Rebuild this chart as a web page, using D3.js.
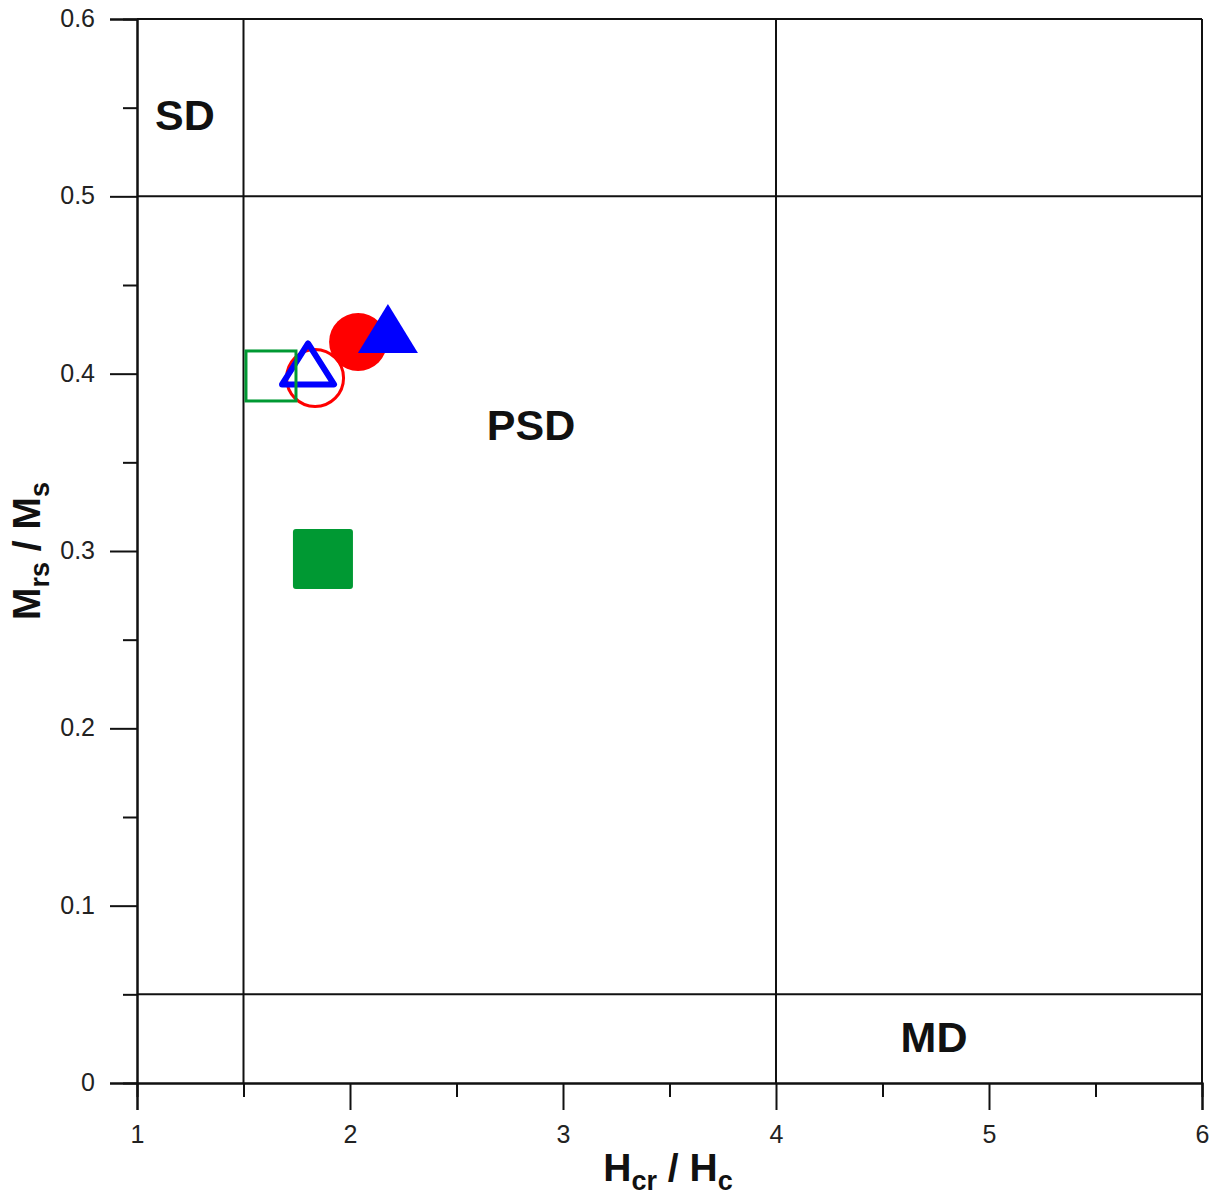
<!DOCTYPE html>
<html lang="en">
<head>
<meta charset="utf-8">
<title>Day plot</title>
<script src="https://cdn.jsdelivr.net/npm/d3@7"></script>
<style>
  body { margin: 0; background: #fff; }
  svg text { font-family: "Liberation Sans", Arial, sans-serif; }
</style>
</head>
<body>
<div id="chart"></div>
<script>
// data
const xTicks = [1, 2, 3, 4, 5, 6];
const yTicks = [0, 0.1, 0.2, 0.3, 0.4, 0.5, 0.6];
const xMinor = [1.5, 2.5, 3.5, 4.5, 5.5];
const yMinor = [0.05, 0.15, 0.25, 0.35, 0.45, 0.55];
const vLines = [1.5, 4];          // SD/PSD and PSD/MD Hcr/Hc limits
const hLines = [0.5, 0.05];       // Mrs/Ms limits
const regions = [
  { name: "SD",  x: 1.225, y: 0.546 },
  { name: "PSD", x: 2.85,  y: 0.371 },
  { name: "MD",  x: 4.742, y: 0.026 }
];
// samples: shape, filled?, colour
const circles   = [{ x: 1.836, y: 0.3976, fill: false }, { x: 2.038, y: 0.4179, fill: true }];
const triangles = [{ x: 1.803, y: 0.4055, fill: false }, { x: 2.178, y: 0.4255, fill: true }];
const squares   = [{ x: 1.629, y: 0.3987, fill: false }, { x: 1.873, y: 0.2955, fill: true }];

const width = 1216, height = 1198;
const mLeft = 137, mRight = 1202, mTop = 19, mBottom = 1083;

const svg = d3.select("#chart").append("svg")
    .attr("width", width)
    .attr("height", height);

const x = d3.scaleLinear().domain([1, 6]).range([mLeft, mRight]);
const y = d3.scaleLinear().domain([0, 0.6]).range([mBottom, mTop]);

// region boundaries
svg.selectAll(".vline").data(vLines).enter().append("line")
    .attr("x1", d => x(d)).attr("x2", d => x(d))
    .attr("y1", y(0)).attr("y2", y(0.6))
    .attr("stroke", "#111").attr("stroke-width", 2);
svg.selectAll(".hline").data(hLines).enter().append("line")
    .attr("x1", x(1)).attr("x2", x(6))
    .attr("y1", d => y(d)).attr("y2", d => y(d))
    .attr("stroke", "#111").attr("stroke-width", 2);

// frame: top and right
svg.append("line").attr("x1", x(1)).attr("x2", x(6)).attr("y1", y(0.6)).attr("y2", y(0.6))
    .attr("stroke", "#111").attr("stroke-width", 2);
svg.append("line").attr("x1", x(6)).attr("x2", x(6)).attr("y1", y(0)).attr("y2", y(0.6))
    .attr("stroke", "#111").attr("stroke-width", 2);

// axes
const xAxis = svg.append("g").attr("transform", `translate(0,${mBottom})`)
    .call(d3.axisBottom(x).tickValues(xTicks).tickSize(27).tickPadding(15).tickFormat(d3.format("d")));
const xAxisMinor = svg.append("g").attr("transform", `translate(0,${mBottom})`)
    .call(d3.axisBottom(x).tickValues(xMinor).tickSize(14).tickFormat(""));
const yAxis = svg.append("g").attr("transform", `translate(${mLeft},0)`)
    .call(d3.axisLeft(y).tickValues(yTicks).tickSize(27).tickPadding(15)
        .tickFormat(d => d === 0 ? "0" : d3.format(".1f")(d)));
const yAxisMinor = svg.append("g").attr("transform", `translate(${mLeft},0)`)
    .call(d3.axisLeft(y).tickValues(yMinor).tickSize(14).tickFormat(""));

[xAxis, xAxisMinor, yAxis, yAxisMinor].forEach(g => {
  g.select(".domain").attr("stroke", "#111").attr("stroke-width", 2);
  g.selectAll(".tick line").attr("stroke", "#111").attr("stroke-width", 2);
  g.selectAll(".tick text")
      .attr("font-family", "Liberation Sans, Arial, sans-serif")
      .attr("font-size", 25).attr("fill", "#222");
});
yAxis.selectAll(".tick text").attr("dy", "0.3em");
xAxis.selectAll(".tick text").attr("dy", "0.71em");

// region names
svg.selectAll(".region").data(regions).enter().append("text")
    .attr("x", d => x(d.x)).attr("y", d => y(d.y))
    .attr("text-anchor", "middle").attr("dominant-baseline", "central")
    .attr("font-size", 43).attr("font-weight", "bold").attr("fill", "#111")
    .text(d => d.name);

// axis titles
const xt = svg.append("text")
    .attr("x", 668).attr("y", 1181)
    .attr("text-anchor", "middle")
    .attr("font-size", 39).attr("font-weight", "bold").attr("fill", "#111");
xt.append("tspan").text("H");
xt.append("tspan").attr("font-size", 27).attr("dy", 9).text("cr");
xt.append("tspan").attr("dy", -9).text(" / H");
xt.append("tspan").attr("font-size", 27).attr("dy", 9).text("c");

const yt = svg.append("text")
    .attr("transform", `translate(40,551) rotate(-90)`)
    .attr("text-anchor", "middle")
    .attr("font-size", 39).attr("font-weight", "bold").attr("fill", "#111");
yt.append("tspan").text("M");
yt.append("tspan").attr("font-size", 27).attr("dy", 9).text("rs");
yt.append("tspan").attr("dy", -9).text(" / M");
yt.append("tspan").attr("font-size", 27).attr("dy", 9).text("s");

// markers
const red = "#ff0000", blue = "#0000ff", green = "#009933";

svg.selectAll(".circ").data(circles).enter().append("circle")
    .attr("cx", d => x(d.x)).attr("cy", d => y(d.y))
    .attr("r", d => d.fill ? 29 : 28.5)
    .attr("fill", d => d.fill ? red : "none")
    .attr("stroke", red).attr("stroke-width", d => d.fill ? 0 : 3);

// triangle centred on its bounding box
const tri = (w, h) => `M0,${-h / 2}L${w / 2},${h / 2}L${-w / 2},${h / 2}Z`;
svg.selectAll(".tri").data(triangles).enter().append("path")
    .attr("transform", d => `translate(${x(d.x)},${y(d.y)})`)
    .attr("d", d => d.fill ? tri(60, 49) : tri(52, 41))
    .attr("fill", d => d.fill ? blue : "none")
    .attr("stroke", blue).attr("stroke-width", d => d.fill ? 0 : 6)
    .attr("stroke-linejoin", "round");

svg.selectAll(".sq").data(squares).enter().append("rect")
    .attr("x", d => x(d.x) - (d.fill ? 30 : 25))
    .attr("y", d => y(d.y) - (d.fill ? 30 : 25))
    .attr("width", d => d.fill ? 60 : 50)
    .attr("height", d => d.fill ? 60 : 50)
    .attr("rx", d => d.fill ? 3 : 0)
    .attr("fill", d => d.fill ? green : "none")
    .attr("stroke", green).attr("stroke-width", d => d.fill ? 0 : 3);
</script>
</body>
</html>
